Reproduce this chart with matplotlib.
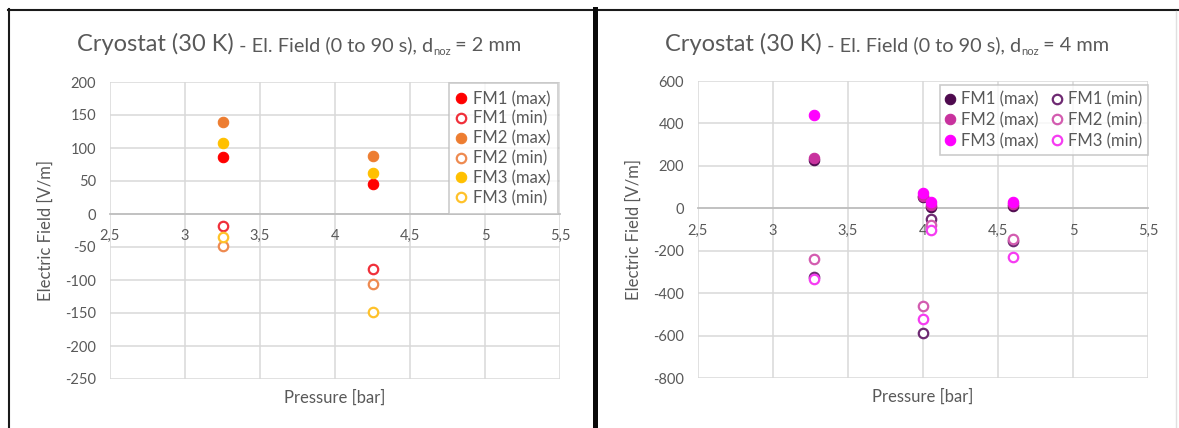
import matplotlib
matplotlib.use("Agg")
import matplotlib.pyplot as plt
from matplotlib.lines import Line2D
from matplotlib.ticker import FuncFormatter, MultipleLocator

plt.rcParams['font.family'] = ['Lato', 'DejaVu Sans']

# ---------------- data ----------------
# Left chart: d_noz = 2 mm
left_pressure = [3.25, 4.25]
left_fm1_max = [87, 45]
left_fm1_min = [-18, -84]
left_fm2_max = [140, 88]
left_fm2_min = [-48, -106]
left_fm3_max = [108, 62]
left_fm3_min = [-35, -148]

# Right chart: d_noz = 4 mm
right_pressure = [3.27, 4.0, 4.05, 4.6]
right_fm1_max = [228, 55, 5, 10]
right_fm1_min = [-325, -590, -50, -155]
right_fm2_max = [238, 60, 15, 20]
right_fm2_min = [-240, -460, -80, -145]
right_fm3_max = [440, 70, 30, 30]
right_fm3_min = [-335, -520, -100, -230]

left_title = ["Cryostat (30 K)", " - El. Field (0 to 90 s), d", "noz", " = 2 mm"]
right_title = ["Cryostat (30 K)", " - El. Field (0 to 90 s), d", "noz", " = 4 mm"]
x_label = "Pressure [bar]"
y_label = "Electric Field [V/m]"

left_colors = {'FM1': '#FF0000', 'FM2': '#ED7D31', 'FM3': '#FFC000'}
left_min_colors = {'FM1': '#F0303A', 'FM2': '#EE8A50', 'FM3': '#FFC22A'}
right_colors = {'FM1': '#4E0A4E', 'FM2': '#C8329E', 'FM3': '#FF00FF'}
right_min_colors = {'FM1': '#6E2A72', 'FM2': '#D35CB0', 'FM3': '#F63CF2'}

TXT = '#595959'
GRID = '#D9D9D9'

W, H = 1179, 428
fig = plt.figure(figsize=(W / 100, H / 100), dpi=100)
fig.patch.set_facecolor('white')


def fx(x):
    return x / W


def fy(y):
    return 1 - y / H


def comma(v, pos):
    s = ('%g' % v)
    return s.replace('.', ',')


def setup_axes(ax, ylim, ystep):
    ax.set_xlim(2.5, 5.5)
    ax.set_ylim(*ylim)
    ax.xaxis.set_major_locator(MultipleLocator(0.5))
    ax.yaxis.set_major_locator(MultipleLocator(ystep))
    ax.xaxis.set_major_formatter(FuncFormatter(comma))
    ax.yaxis.set_major_formatter(FuncFormatter(lambda v, p: '%d' % v))
    for s in ['top', 'right', 'left']:
        ax.spines[s].set_visible(False)
    ax.spines['bottom'].set_position(('data', 0))
    ax.spines['bottom'].set_color('#BFBFBF')
    ax.spines['bottom'].set_linewidth(1.3)
    ax.spines['bottom'].set_zorder(1.5)
    ax.grid(True, color=GRID, linewidth=1.1, zorder=0)
    ax.set_axisbelow(True)
    ax.tick_params(axis='both', length=0, labelsize=10.5, labelcolor=TXT)
    ax.tick_params(axis='x', pad=11)
    ax.tick_params(axis='y', pad=10)
    ax.set_xlabel(x_label, fontsize=12, color=TXT, labelpad=0)
    ax.set_ylabel(y_label, fontsize=12, color=TXT, labelpad=8)
    ax.xaxis.set_label_coords(0.5, -0.035)


def plot_series(ax, x, ymax, ymin, cmax, cmin, name):
    h1, = ax.plot(x, ymax, linestyle='none', marker='o', markersize=7.5,
                  markerfacecolor=cmax, markeredgecolor=cmax, markeredgewidth=0.8,
                  label=f'{name} (max)', zorder=3)
    h2, = ax.plot(x, ymin, linestyle='none', marker='o', markersize=6.8,
                  markerfacecolor='white', markeredgecolor=cmin, markeredgewidth=1.6,
                  label=f'{name} (min)', zorder=3)
    return h1, h2


# ---------------- left chart ----------------
axL = fig.add_axes([fx(110), fy(379), fx(450), 297 / H])
setup_axes(axL, (-250, 200), 50)
plot_series(axL, left_pressure, left_fm1_max, left_fm1_min, left_colors['FM1'], left_min_colors['FM1'], 'FM1')
plot_series(axL, left_pressure, left_fm2_max, left_fm2_min, left_colors['FM2'], left_min_colors['FM2'], 'FM2')
plot_series(axL, left_pressure, left_fm3_max, left_fm3_min, left_colors['FM3'], left_min_colors['FM3'], 'FM3')
legL = axL.legend(loc='upper right', bbox_to_anchor=(0.995, 0.995), borderaxespad=0,
                  fontsize=12, frameon=True, fancybox=False, edgecolor='#BFBFBF',
                  handlelength=0.6, handletextpad=0.4, labelspacing=0.22,
                  borderpad=0.45, labelcolor=TXT)
legL.get_frame().set_linewidth(1.2)

# ---------------- right chart ----------------
axR = fig.add_axes([fx(698), fy(378), fx(450), 297 / H])
setup_axes(axR, (-800, 600), 200)
max_handles, min_handles = [], []
for nm, ymx, ymn in [('FM1', right_fm1_max, right_fm1_min),
                     ('FM2', right_fm2_max, right_fm2_min),
                     ('FM3', right_fm3_max, right_fm3_min)]:
    h1, h2 = plot_series(axR, right_pressure, ymx, ymn, right_colors[nm], right_min_colors[nm], nm)
    max_handles.append(h1)
    min_handles.append(h2)
legR = axR.legend(handles=max_handles + min_handles, ncol=2, loc='upper right',
                  bbox_to_anchor=(1.0, 0.985), borderaxespad=0, fontsize=12,
                  frameon=True, fancybox=False, edgecolor='#BFBFBF',
                  handlelength=0.6, handletextpad=0.35, labelspacing=0.28,
                  columnspacing=0.8, borderpad=0.35, labelcolor=TXT)
legR.get_frame().set_linewidth(1.2)


# ---------------- titles ----------------
def draw_title(x_px, base_y_px, parts):
    renderer = fig.canvas.get_renderer()
    sizes = [17, 14.3, 8, 14.3]
    offs = [0, 0, -4, 0]
    x = x_px
    for txt, sz, off in zip(parts, sizes, offs):
        t = fig.text(x, H - base_y_px + off, txt, fontsize=sz, color=TXT,
                     transform=None, ha='left', va='baseline')
        bb = t.get_window_extent(renderer=renderer)
        x = bb.x1


draw_title(77, 51, left_title)
draw_title(665, 51, right_title)

# ---------------- frame lines ----------------
fig.add_artist(Line2D([fx(8), 1], [fy(9.5), fy(9.5)], color='#1A1A1A', linewidth=1.5,
                      transform=fig.transFigure))
fig.add_artist(Line2D([fx(9), fx(9)], [fy(9), 0], color='#1A1A1A', linewidth=1.5,
                      transform=fig.transFigure))
fig.add_artist(Line2D([fx(594.5), fx(594.5)], [fy(9), 0], color='#0A0A0A', linewidth=3.6,
                      transform=fig.transFigure))
fig.add_artist(Line2D([fx(1175.5), fx(1175.5)], [fy(11), 0], color='#E0E0E0', linewidth=1.0,
                      transform=fig.transFigure))

fig.savefig('out.png', dpi=100)
